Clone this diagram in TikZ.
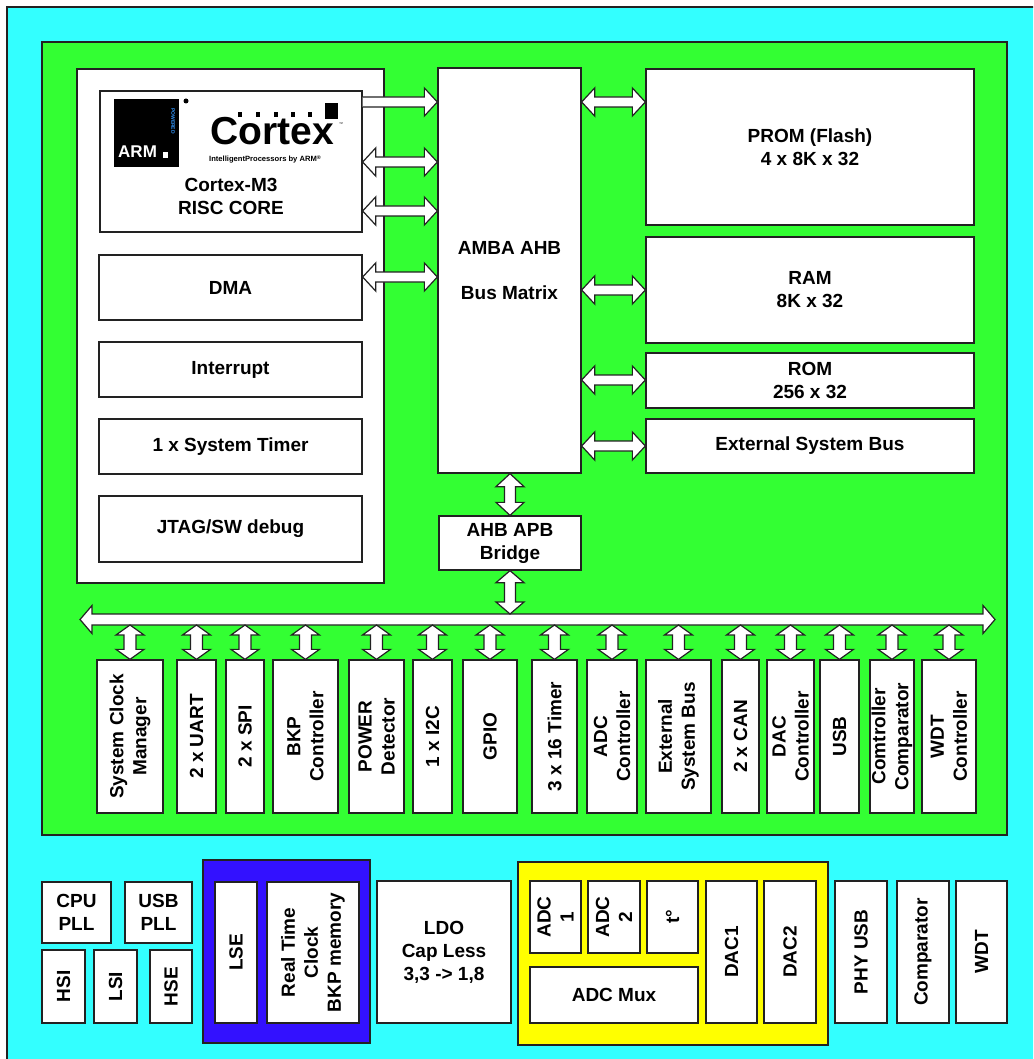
\documentclass[tikz,border=0pt]{standalone}
\usepackage{fontspec}
\setmainfont{Liberation Sans}
\usetikzlibrary{calc,fit}
\definecolor{cyanbg}{HTML}{33FFFF}
\definecolor{greenbg}{HTML}{33FF33}
\definecolor{bluebg}{HTML}{3311FF}
\definecolor{yellowbg}{HTML}{FFFF00}
\definecolor{edge}{HTML}{222222}
\definecolor{powblue}{HTML}{3399FF}
\tikzset{
  box/.style={draw=edge, line width=1.3pt, fill=white, rectangle, inner sep=0pt},
  region/.style={draw=edge, line width=1.3pt, rectangle, inner sep=0pt},
  txt/.style={align=center, inner sep=0pt, font=\fontsize{19}{23}\selectfont\bfseries, text=black},
  fat/.style={draw=edge, line width=1.2pt, fill=white, line join=miter},
}
% box with centred (optionally rotated) label
\newcommand\bx[5][0]{\node[box, fit={(#3) (#4)}] (#2) {};
  \node[txt, rotate=#1] (#2-t) at (#2.center) {#5};}
% arrow sizes
\def\ahl{13pt}\def\ahw{14pt}\def\asw{5pt}
% horizontal double arrow, #1 left point, #2 right point
\newcommand\hdbl[2]{\draw[fat] let \p1=#1, \p2=#2 in
  (\x1,\y1) -- (\x1+\ahl,\y1+\ahw) -- (\x1+\ahl,\y1+\asw) -- (\x2-\ahl,\y1+\asw)
  -- (\x2-\ahl,\y1+\ahw) -- (\x2,\y1) -- (\x2-\ahl,\y1-\ahw) -- (\x2-\ahl,\y1-\asw)
  -- (\x1+\ahl,\y1-\asw) -- (\x1+\ahl,\y1-\ahw) -- cycle;}
% horizontal single arrow pointing right
\newcommand\hsgl[2]{\draw[fat] let \p1=#1, \p2=#2 in
  (\x1,\y1+\asw) -- (\x2-\ahl,\y1+\asw) -- (\x2-\ahl,\y1+\ahw) -- (\x2,\y1)
  -- (\x2-\ahl,\y1-\ahw) -- (\x2-\ahl,\y1-\asw) -- (\x1,\y1-\asw);}
% vertical double arrow, #1 top point, #2 bottom point
\newcommand\vdbl[2]{\draw[fat] let \p1=#1, \p2=#2 in
  (\x1,\y1) -- (\x1+\ahw,\y1-\ahl) -- (\x1+\asw,\y1-\ahl) -- (\x1+\asw,\y2+\ahl)
  -- (\x1+\ahw,\y2+\ahl) -- (\x1,\y2) -- (\x1-\ahw,\y2+\ahl) -- (\x1-\asw,\y2+\ahl)
  -- (\x1-\asw,\y1-\ahl) -- (\x1-\ahw,\y1-\ahl) -- cycle;}
\begin{document}
\begin{tikzpicture}[x=1pt,y=-1pt]
\useasboundingbox (0,0) rectangle (1033,1059);
\clip (0,0) rectangle (1033,1059);
% regions
\node[region, fill=cyanbg, fit={(7,7) (1045,1070)}] (chip) {};
\node[region, fill=greenbg, fit={(42,42) (1007,835)}] (core area) {};
\node[box, fit={(77,69) (384,583)}] (cpupanel) {};
\node[region, fill=bluebg, fit={(203,860) (370,1043)}] (bkpdom) {};
\node[region, fill=yellowbg, fit={(518,862) (828,1045)}] (analog) {};

% Cortex core with logo
\node[box, fit={(100,91) (362,232)}] (core) {};
\fill[black] (114,99) rectangle (179,167);
\node[anchor=base west, inner sep=0pt, text=white, font=\fontsize{17}{17}\selectfont\bfseries] (armtxt) at (118,158) {ARM};
\fill[white] (163,152) rectangle (168,158);
\node[rotate=-90, inner sep=0pt, text=powblue, font=\fontsize{5}{5}\selectfont\bfseries] (powered) at (173,121) {POWERED};
\fill[black] (186,101) circle (2.5);
\node[anchor=base west, inner sep=0pt, font=\fontsize{39}{39}\selectfont\bfseries] (cortexlogo) at (210,145) {Cortex};
\foreach \dx in {238,256,274,291,308} \fill[black] (\dx,112) rectangle ++(4,5);
\fill[black] (325,103) rectangle (338,119);
\node[inner sep=0pt, font=\fontsize{4}{4}\selectfont] (tm) at (341,124) {™};
\node[anchor=base west, inner sep=0pt, font=\fontsize{7.6}{8}\selectfont\bfseries] (tagline) at (209,162) {IntelligentProcessors by ARM\textsuperscript{®}};
\node[txt] (core-t) at (231,196) {Cortex-M3\\RISC CORE};

% left panel
\bx{dma}{99,255}{362,320}{DMA}
\bx{irq}{99,342}{362,397}{Interrupt}
\bx{systim}{99,419}{362,474}{1 x System Timer}
\bx{jtag}{99,496}{362,562}{JTAG/SW debug}

% bus matrix, bridge, memories
\bx{matrix}{438,68}{581,473}{AMBA AHB\\[22pt]Bus Matrix}
\bx{bridge}{439,516}{581,570}{AHB APB\\Bridge}
\bx{prom}{646,69}{974,225}{PROM (Flash)\\4 x 8K x 32}
\bx{ram}{646,237}{974,343}{RAM\\8K x 32}
\bx{rom}{646,353}{974,408}{ROM\\256 x 32}
\bx{extbus}{646,419}{974,473}{External System Bus}

% APB peripherals
\bx[90]{scm}{97,660}{163,813}{System Clock\\Manager}
\bx[90]{uart}{177,660}{216,813}{2 x UART}
\bx[90]{spi}{226,660}{264,813}{2 x SPI}
\bx[90]{bkp}{273,660}{338,813}{BKP\\Controller}
\bx[90]{pwr}{349,660}{404,813}{POWER\\Detector}
\bx[90]{i2c}{413,660}{452,813}{1 x I2C}
\bx[90]{gpio}{463,660}{517,813}{GPIO}
\bx[90]{tim}{532,660}{577,813}{3 x 16 Timer}
\bx[90]{adcc}{587,660}{637,813}{ADC\\Controller}
\bx[90]{esb}{646,660}{711,813}{External\\System Bus}
\bx[90]{can}{722,660}{759,813}{2 x CAN}
\bx[90]{dacc}{767,660}{814,813}{DAC\\Controller}
\bx[90]{usb}{820,660}{859,813}{USB}
\bx[90]{cmpc}{870,660}{914,813}{Comtroller\\Comparator}
\bx[90]{wdtc}{922,660}{976,813}{WDT\\Controller}

% bottom analog / clock blocks
\bx{cpupll}{42,882}{111,943}{CPU\\PLL}
\bx{usbpll}{125,882}{192,943}{USB\\PLL}
\bx[90]{hsi}{42,950}{85,1023}{HSI}
\bx[90]{lsi}{94,950}{137,1023}{LSI}
\bx[90]{hse}{150,950}{192,1023}{HSE}
\bx[90]{lse}{215,882}{257,1023}{LSE}
\bx[90]{rtc}{267,882}{359,1023}{Real Time\\Clock\\BKP memory}
\bx{ldo}{377,881}{511,1023}{LDO\\Cap Less\\3,3 -> 1,8}
\bx[90]{adc1}{530,881}{581,953}{ADC\\1}
\bx[90]{adc2}{588,881}{640,953}{ADC\\2}
\bx[90]{temp}{647,881}{698,953}{t°}
\bx{adcmux}{530,967}{698,1023}{ADC Mux}
\bx[90]{dac1}{706,881}{757,1023}{DAC1}
\bx[90]{dac2}{764,881}{816,1023}{DAC2}
\bx[90]{phy}{835,881}{887,1023}{PHY USB}
\bx[90]{comp}{897,881}{949,1023}{Comparator}
\bx[90]{wdt}{956,881}{1007,1023}{WDT}

% row coordinates for horizontal connectors
\coordinate (r1) at (0,102);
\coordinate (r2) at (0,162);
\coordinate (r3) at (0,211);
\coordinate (r4) at (0,277);
\coordinate (r5) at (0,290);
\coordinate (r6) at (0,380);
\coordinate (r7) at (0,446);

% AHB connectors
\hsgl{(core.east |- r1)}{(matrix.west |- r1)}
\hdbl{(core.east |- r2)}{(matrix.west |- r2)}
\hdbl{(core.east |- r3)}{(matrix.west |- r3)}
\hdbl{(dma.east |- r4)}{(matrix.west |- r4)}
\hdbl{(matrix.east |- r1)}{(prom.west |- r1)}
\hdbl{(matrix.east |- r5)}{(ram.west |- r5)}
\hdbl{(matrix.east |- r6)}{(rom.west |- r6)}
\hdbl{(matrix.east |- r7)}{(extbus.west |- r7)}
\def\asw{5.5pt}
\vdbl{(matrix.south -| bridge.north)}{(bridge.north)}

% APB bus
\coordinate (busL) at (80,619.5);
\coordinate (busR) at (995,619.5);
\def\ahl{12pt}
\hdbl{(busL)}{(busR)}
\vdbl{(bridge.south)}{($(bridge.south |- busL)+(0,-5.5)$)}
\def\ahl{10pt}\def\asw{6pt}
\foreach \pn in {scm,uart,spi,bkp,pwr,i2c,gpio,tim,adcc,esb,can,dacc,usb,cmpc,wdtc}{
  \vdbl{($(\pn.north |- busL)+(0,5.5)$)}{(\pn.north)}
}
\end{tikzpicture}
\end{document}
